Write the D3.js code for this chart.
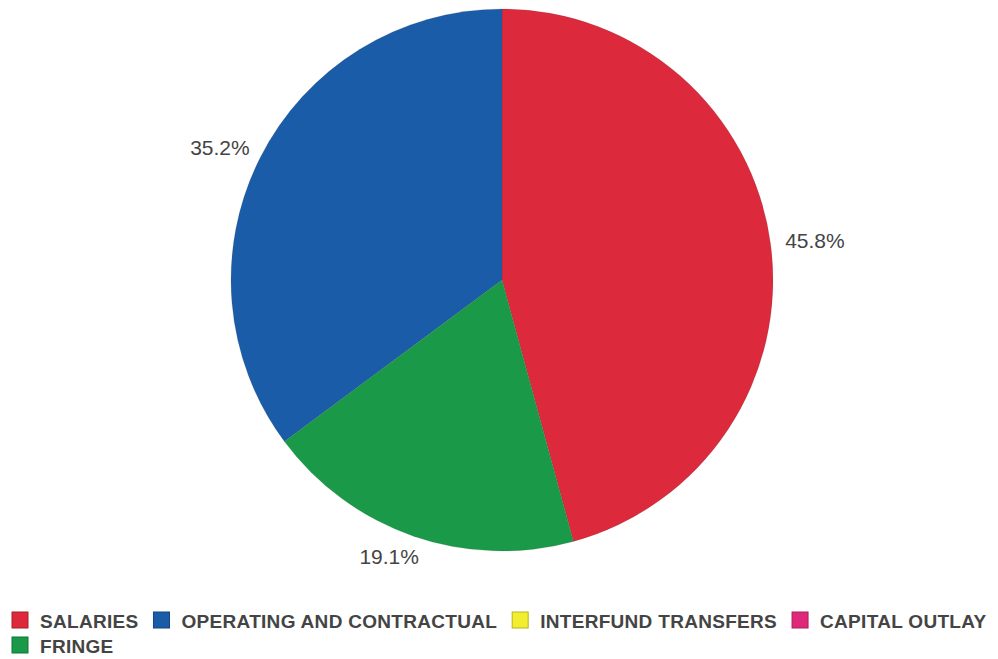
<!DOCTYPE html>
<html>
<head>
<meta charset="utf-8">
<script src="https://cdn.jsdelivr.net/npm/d3@7"></script>
<style>
	html, body { margin: 0; padding: 0; background: #fff; }
	#outer { width: 998px; height: 659px; }
</style>
</head>
<body>
<div id="outer"></div>
<script>
////////// Data //////////
const categories = ['SALARIES', 'OPERATING AND CONTRACTUAL', 'INTERFUND TRANSFERS', 'CAPITAL OUTLAY', 'FRINGE'];
const shares = [45.8, 35.2, 0, 0, 19.1];
const sliceColors = ['#dc2a3c', '#1a5ca8', '#f2ee2e', '#e0287a', '#1a9a48'];
// clockwise order of the slices, starting at 12 o'clock
const pieOrder = ['SALARIES', 'INTERFUND TRANSFERS', 'CAPITAL OUTLAY', 'FRINGE', 'OPERATING AND CONTRACTUAL'];

function drawChart () {
	const width = 998, height = 659;
	const cx = 502, cy = 280, radius = 271;
	const labelFont = '21px "Liberation Sans", Arial, sans-serif';
	const legendFont = 'bold 19px "Liberation Sans", Arial, sans-serif';
	const textColor = '#444';

	const rows = categories.map((c, i) => ({name: c, value: shares[i], color: sliceColors[i]}));
	const color = d3.scaleOrdinal().domain(categories).range(sliceColors);

	const svg = d3.select('#outer').append('svg')
		.attr('width', width)
		.attr('height', height);

	// ********** PIE ********** //
	const pie = d3.pie()
		.value(d => d.value)
		.sort((a, b) => pieOrder.indexOf(a.name) - pieOrder.indexOf(b.name));
	const arcs = pie(rows);
	const arc = d3.arc().innerRadius(0).outerRadius(radius);

	const pieGroup = svg.append('g').attr('transform', `translate(${cx}, ${cy})`);
	pieGroup.selectAll('path')
		.data(arcs.filter(d => d.value > 0))
		.join('path')
		.attr('d', arc)
		.attr('fill', d => color(d.data.name))
		.attr('stroke', 'rgba(60,60,60,0.3)')
		.attr('stroke-width', 0.5);

	// labels outside the end of each slice
	const labels = pieGroup.selectAll('text.pct')
		.data(arcs.filter(d => d.value > 0))
		.join('text')
		.attr('class', 'pct')
		.style('font', labelFont)
		.attr('fill', textColor)
		.attr('text-anchor', 'middle')
		.text(d => d.data.value.toFixed(1) + '%');
	labels.each(function (d) {
		const a = (d.startAngle + d.endAngle) / 2;
		const w = this.getComputedTextLength();
		const h = 20;
		const r = radius + 12;
		// lower labels sit a bit further out sideways
		const spread = Math.cos(a) < 0 ? 2.1 : 1.1;
		const px = r * Math.sin(a) + (w / 2) * Math.sin(a) * spread;
		const py = -r * Math.cos(a) - (h / 2) * Math.cos(a);
		d3.select(this).attr('x', px).attr('y', py + 7);
	});

	// ********** LEGEND ********** //
	const legend = svg.append('g').attr('class', 'legend')
		.style('font', legendFont)
		.style('letter-spacing', '0.3px');
	const box = 16, gap = 12, itemGap = 15;
	let lx = 12, ly = 612;
	rows.forEach(d => {
		const g = legend.append('g');
		const t = g.append('text')
			.attr('fill', textColor)
			.text(d.name);
		const tw = t.node().getComputedTextLength();
		if (lx + box + gap + tw > width) { lx = 12; ly += 25; }
		g.attr('transform', `translate(${lx}, ${ly})`);
		g.insert('rect', 'text')
			.attr('width', box)
			.attr('height', box)
			.attr('fill', d.color)
			.attr('stroke', d3.color(d.color).darker(0.8))
			.attr('stroke-width', 1);
		t.attr('x', box + gap).attr('y', box);
		lx += box + gap + tw + itemGap;
	});
}

drawChart();
</script>
</body>
</html>
